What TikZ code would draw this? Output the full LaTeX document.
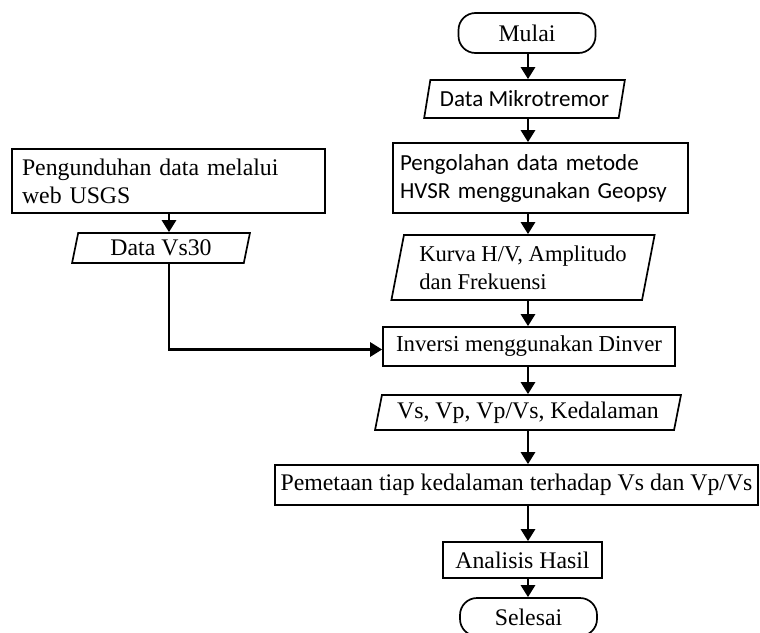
\documentclass[tikz,border=0pt]{standalone}
\usepackage{fontspec}
\setmainfont{Liberation Serif}
\newfontfamily\calib{Carlito}
\usetikzlibrary{shapes.geometric,arrows.meta}
\begin{document}
\begin{tikzpicture}[x=1pt,y=-1pt,
  txt/.style={font=\fontsize{23.8}{28}\selectfont},
  ctxt/.style={font=\calib\fontsize{23}{28}\selectfont},
  box/.style={txt,draw,line width=1.7pt,rectangle,inner sep=0pt},
  term/.style={box,rounded corners=17pt},
  para/.style={txt,draw,line width=1.7pt,trapezium,trapezium stretches=true,inner sep=0pt},
  arr/.style={line width=2.8pt,-{Triangle[length=12pt,width=14pt]}}
]
\useasboundingbox (0,0) rectangle (760,632);
% right column
\node[term,minimum width=137pt,minimum height=40pt] (mulai) at (527,33) {Mulai};
\node[para,ctxt,trapezium left angle=71,trapezium right angle=109,minimum width=201pt,minimum height=38pt] (mikro) at (524.5,99) {Data Mikrotremor};
\node[box,ctxt,minimum width=295pt,minimum height=70pt,text width=281pt,align=left] (olah) at (540.5,178) {Pengolahan data metode\\HVSR menggunakan Geopsy};
\node[para,trapezium left angle=76,trapezium right angle=104,minimum width=264pt,minimum height=65pt,align=left,font=\fontsize{22.6}{28}\selectfont] (kurva) at (523,267.5) {Kurva H/V, Amplitudo\\dan Frekuensi};
\node[box,minimum width=292pt,minimum height=39pt,font=\fontsize{22.8}{28}\selectfont] (inv) at (529,346.5) {Inversi menggunakan Dinver};
\node[para,trapezium left angle=74,trapezium right angle=106,minimum width=306pt,minimum height=35pt] (vs) at (528,412.5) {Vs, Vp, Vp/Vs, Kedalaman};
\node[box,minimum width=483pt,minimum height=40pt] (peta) at (516.5,485) {Pemetaan tiap kedalaman terhadap Vs dan Vp/Vs};
\node[box,minimum width=159pt,minimum height=36pt] (anal) at (522.5,560) {Analisis Hasil};
\node[term,minimum width=137pt,minimum height=38pt] (selesai) at (528.5,617) {Selesai};
% left column
\node[box,minimum width=313pt,minimum height=64pt,text width=293pt,align=left] (unduh) at (168.5,181) {Pengunduhan data melalui\\web USGS};
\node[para,trapezium left angle=77,trapezium right angle=103,minimum width=178pt,minimum height=30pt] (vs30) at (161,248) {Data Vs30};
% connectors
\coordinate (cx) at (528,0);
\draw[arr] (mulai.south -| cx) -- (mikro.north -| cx);
\draw[arr] (mikro.south -| cx) -- (olah.north -| cx);
\draw[arr] (olah.south -| cx) -- (kurva.north -| cx);
\draw[arr] (kurva.south -| cx) -- (inv.north -| cx);
\draw[arr] (inv.south -| cx) -- (vs.north -| cx);
\draw[arr] (vs.south -| cx) -- (peta.north -| cx);
\draw[arr] (peta.south -| cx) -- (anal.north -| cx);
\draw[arr] (anal.south -| cx) -- (selesai.north -| cx);
\coordinate (lx) at (169,0);
\draw[arr] (unduh.south -| lx) -- (vs30.north -| lx);
\draw[arr] (vs30.south -| lx) |- ([yshift=-3pt]inv.west);
\end{tikzpicture}
\end{document}
